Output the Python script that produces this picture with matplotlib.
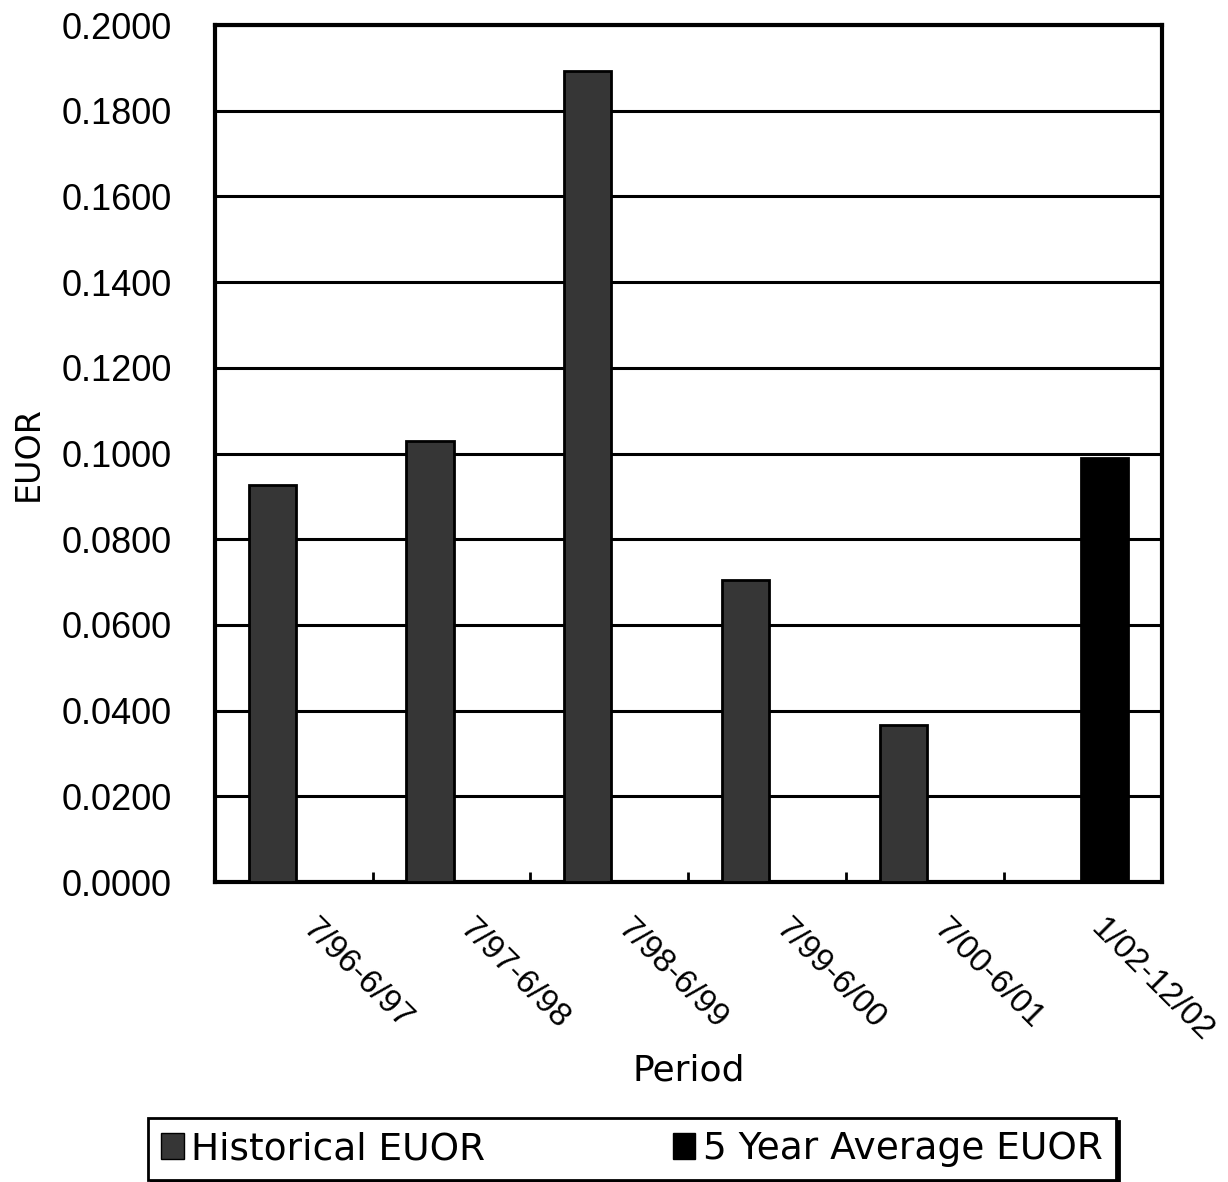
import matplotlib
matplotlib.use("Agg")
import matplotlib.pyplot as plt
import matplotlib.transforms as mtransforms
from matplotlib.patches import Patch
import numpy as np

# EUOR per period
periods = ["7/96-6/97", "7/97-6/98", "7/98-6/99", "7/99-6/00", "7/00-6/01", "1/02-12/02"]
historical = [0.0927, 0.1029, 0.1893, 0.0705, 0.0366, 0.0]
five_year_avg = [0.0, 0.0, 0.0, 0.0, 0.0, 0.0990]
yticks = [0.0, 0.02, 0.04, 0.06, 0.08, 0.10, 0.12, 0.14, 0.16, 0.18, 0.20]

plt.rcParams["font.family"] = ["DejaVu Sans"]
NUM_FONT = "Liberation Sans"

fig = plt.figure(figsize=(12.28, 11.82), dpi=100)
ax = fig.add_axes([0.175, 0.2538, 0.771, 0.725])

x = np.arange(len(periods)) + 0.5
w = 0.30
off = 0.137
ax.bar(x - off, historical, width=w, color="#363636", edgecolor="black",
       linewidth=2, zorder=3)
ax.bar(x + off, five_year_avg, width=w, color="black", edgecolor="black",
       linewidth=2, zorder=3)

ax.set_xlim(0, len(periods))
ax.set_ylim(0, 0.2)
ax.set_yticks(yticks)
ax.set_yticklabels([f"{v:.4f}" for v in yticks], fontsize=26, family=NUM_FONT)
ax.yaxis.grid(True, color="black", linewidth=2.2, zorder=1)
ax.set_axisbelow(True)

# category boundaries get small inward ticks, labels sit at centres
ax.set_xticks(np.arange(len(periods) + 1))
ax.set_xticklabels([])
ax.tick_params(axis="x", which="major", direction="in", length=7, width=2)
ax.set_xticks(x, minor=True)
ax.set_xticklabels(periods, minor=True, fontsize=24, family=NUM_FONT,
                   rotation=-45, ha="left", va="top", rotation_mode="anchor")
ax.tick_params(axis="x", which="minor", length=0, pad=22)
shift = mtransforms.ScaledTranslation(24 / 100, 0, fig.dpi_scale_trans)
for lbl in ax.get_xticklabels(minor=True):
    lbl.set_transform(lbl.get_transform() + shift)
ax.tick_params(axis="y", length=0, pad=31)

for s in ax.spines.values():
    s.set_linewidth(3)

ax.set_xlabel("Period", fontsize=26, va="top")
ax.xaxis.set_label_coords(0.5, -0.200)
ax.set_ylabel("EUOR", fontsize=24, va="center")
ax.yaxis.set_label_coords(-0.197, 0.5)

handles = [Patch(facecolor="#363636", edgecolor="black", label="Historical EUOR"),
           Patch(facecolor="black", edgecolor="black", label="5 Year Average EUOR")]
leg = fig.legend(handles=handles, loc="center", bbox_to_anchor=(0.5147, 0.0279),
                 ncol=2, fontsize=27, frameon=True, fancybox=False,
                 shadow={"color": "black", "alpha": 1},
                 handlelength=0.6, handleheight=0.7, handletextpad=0.2,
                 columnspacing=5.0, borderpad=0.35, borderaxespad=0)
leg.get_frame().set_edgecolor("black")
leg.get_frame().set_linewidth(2)

fig.savefig("out.png", dpi=100)
